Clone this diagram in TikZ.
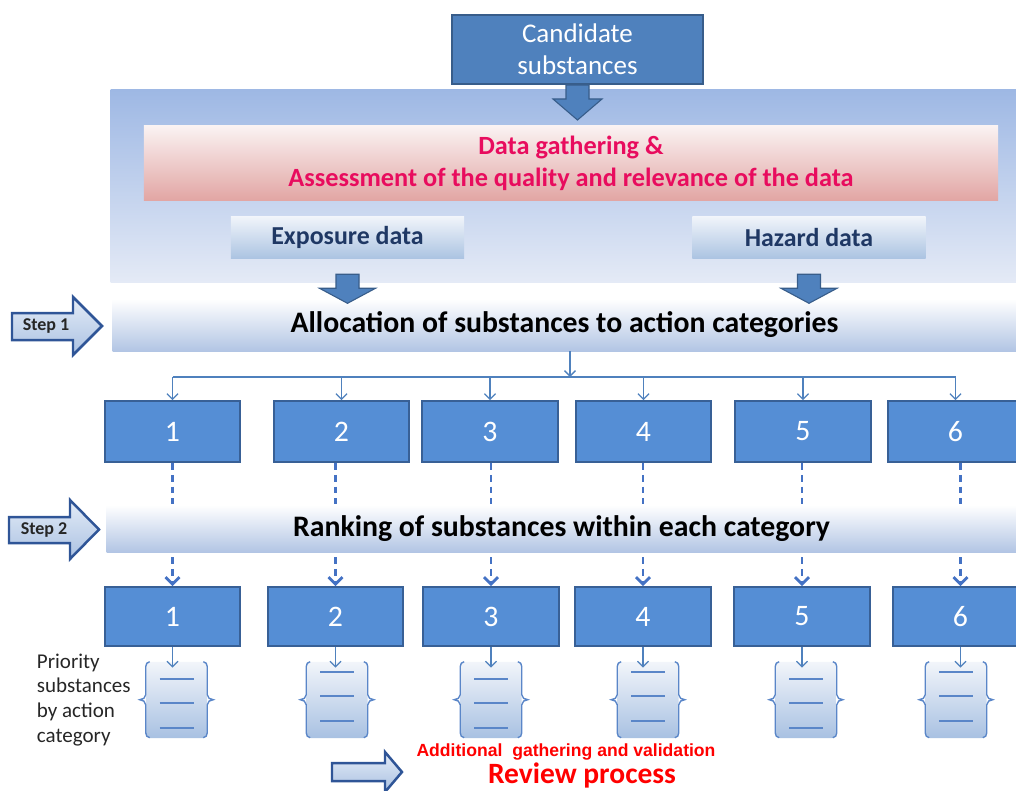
\documentclass[tikz,border=0pt]{standalone}
\usepackage{fontspec}
\setmainfont{Carlito}
\newfontfamily\arialfont{Liberation Sans}
\usetikzlibrary{arrows.meta,positioning}

\definecolor{boxblue}{RGB}{85,142,213}
\definecolor{boxedge}{RGB}{56,96,150}
\definecolor{candblue}{RGB}{79,129,189}
\definecolor{candedge}{RGB}{56,93,138}
\definecolor{linkblue}{RGB}{79,129,189}
\definecolor{dashblue}{RGB}{68,114,196}
\definecolor{paneltop}{RGB}{158,184,228}
\definecolor{panelbot}{RGB}{228,234,246}
\definecolor{pinktop}{RGB}{250,242,242}
\definecolor{pinkbot}{RGB}{226,166,164}
\definecolor{datatop}{RGB}{240,244,250}
\definecolor{databot}{RGB}{172,196,226}
\definecolor{bandbot}{RGB}{178,197,228}
\definecolor{stepedge}{RGB}{47,85,151}
\definecolor{steptop}{RGB}{228,236,247}
\definecolor{stepbot}{RGB}{170,193,226}
\definecolor{gathertext}{RGB}{232,12,94}
\definecolor{navytext}{RGB}{31,56,100}
\definecolor{reviewred}{RGB}{255,0,0}
\definecolor{listline}{RGB}{90,134,200}
\definecolor{listtop}{RGB}{242,245,250}
\definecolor{listbot}{RGB}{168,193,226}

\tikzset{
  catbox/.style={draw=boxedge, line width=1.4pt, fill=boxblue, text=white,
    minimum width=1.35in, font=\fontsize{21.5}{26}\selectfont},
  candbox/.style={draw=candedge, line width=1.4pt, fill=candblue, text=white,
    minimum width=2.51in, minimum height=0.69in, align=center,
    font=\fontsize{19.5}{23}\selectfont},
  panel/.style={top color=paneltop, bottom color=panelbot, minimum width=9.05in,
    minimum height=1.92in, inner sep=0pt},
  gatherband/.style={top color=pinktop, bottom color=pinkbot, minimum width=8.54in,
    minimum height=0.74in, align=center, text=gathertext,
    font=\bfseries\fontsize{19}{23}\selectfont},
  databox/.style={top color=datatop, bottom color=databot, minimum width=2.33in,
    minimum height=0.41in, text=navytext, font=\bfseries\fontsize{18.7}{22}\selectfont},
  band/.style={top color=white, bottom color=bandbot, inner sep=0pt,
    font=\bfseries\fontsize{21.5}{25}\selectfont},
  fatarrow/.style={draw=candedge, line width=0.8pt, fill=candblue, line join=miter},
  steparrow/.style={draw=stepedge, line width=1.8pt, top color=steptop,
    bottom color=stepbot, line join=miter},
  steptext/.style={font=\bfseries\fontsize{13}{15}\selectfont, text=black!85},
  link/.style={draw=linkblue, line width=0.9pt, -{Straight Barb[length=4pt,width=8pt]}},
  linkline/.style={draw=linkblue, line width=0.9pt},
  dashlink/.style={draw=dashblue, line width=2pt, dash pattern=on 5pt off 3.5pt,
    -{Straight Barb[length=5pt,width=10pt]}},
  listbox/.style={top color=listtop, bottom color=listbot, minimum width=0.61in,
    minimum height=0.76in, rounded corners=3pt, inner sep=0pt},
  bracepen/.style={draw=listline, line width=1pt},
  listpen/.style={draw=listline, line width=1.4pt}
}

\begin{document}
\begin{tikzpicture}[x=0.01in, y=-0.01in]
\useasboundingbox (0,0) rectangle (1016,791);
\clip (0,0) rectangle (1016,791);

% data gathering
\node[panel] (panel) at (563.5,186) {};
\node[candbox] (cand) at (577.5,49.5) {Candidate\\substances};
\draw[fatarrow] ([shift={(-11.5,0)}]cand.south) -- ++(0,14) -- ++(-13,0) -- ++(24.5,21)
  -- ++(24.5,-21) -- ++(-13,0) -- ++(0,-14) -- cycle;
\node[gatherband] (gather) at (571,163)
  {Data gathering \&\\Assessment of the quality and relevance of the data};
\node[databox] (expo) at (347.5,237.5) {Exposure data};
\node[databox] (hazard) at (809,237.5) {Hazard data};

% step 1
\node[band, minimum width=9.03in, minimum height=0.52in] (alloc) at (564.5,325)
  {Allocation of substances to action categories};
\foreach \src in {expo,hazard}
  \draw[fatarrow] ([shift={(-11.5,16)}]\src.south) -- ++(0,14) -- ++(-16.5,0) -- ++(28,15)
    -- ++(28,-15) -- ++(-16.5,0) -- ++(0,-14) -- cycle;
\draw[steparrow] (12,313) -- (73,313) -- (73,297) -- (102,326) -- (73,355) -- (73,340)
  -- (12,340) -- cycle;
\node[steptext] (step1) at (46,326.5) {Step 1};

\foreach \i/\x in {1/172.5,2/341.5,3/490,4/643.5,5/803,6/955.5}
  \node[catbox, minimum height=0.61in] (a\i) at (\x,431.5) {\i};
\coordinate (split) at (570,377);
\draw[link] (split |- alloc.south) -- (split);
\draw[linkline] (a1.north |- split) -- (a6.north |- split);
\foreach \i in {1,...,6}
  \draw[link] (a\i.north |- split) -- (a\i.north);

% step 2
\foreach \i/\x in {1/172.5,2/335.5,3/491,4/643,5/802,6/960.5}
  \node[catbox, minimum height=0.59in] (b\i) at (\x,616.5) {\i};
\foreach \i in {1,...,6}
  \draw[dashlink] (b\i.north |- a\i.south) -- (b\i.north);
\node[band, minimum width=9.09in, minimum height=0.47in] (rank) at (561.5,528.5)
  {Ranking of substances within each category};
\draw[steparrow] (9,517) -- (70,517) -- (70,500) -- (99,529.5) -- (70,559) -- (70,543)
  -- (9,543) -- cycle;
\node[steptext] (step2) at (44,530) {Step 2};

% priority lists
\foreach \i/\x/\off in {1/176.5/7,2/337/0,3/491/7,4/648/0,5/806/7,6/956/0} {
  \node[listbox] (list\i) at (\x,700) {};
  \draw[bracepen] ([shift={(4,0)}]list\i.north west) to[out=180,in=90] ++(-4,5) -- ++(0,28)
    to[out=-90,in=0] ++(-6,5) to[out=0,in=90] ++(6,5) -- ++(0,28) to[out=-90,in=180] ++(4,5);
  \draw[bracepen] ([shift={(-4,0)}]list\i.north east) to[out=0,in=90] ++(4,5) -- ++(0,28)
    to[out=-90,in=180] ++(6,5) to[out=180,in=90] ++(-6,5) -- ++(0,28) to[out=-90,in=0] ++(-4,5);
  \foreach \dy in {10,34,59}
    \draw[listpen] ([shift={(-17,\dy+\off)}]list\i.north) -- ++(34,0);
  \draw[link, shorten >=-4.3pt] (b\i.south) -- (b\i.south |- list\i.north);
}
\node[align=left, anchor=west, text=black!85, font=\fontsize{15.2}{18}\selectfont]
  (prio) at (32,700) {Priority\\substances\\by action\\category};

% review
\draw[steparrow] (332,763) -- (385,763) -- (385,752) -- (402,772) -- (385,792) -- (385,781)
  -- (332,781) -- cycle;
\node[text=reviewred, font=\arialfont\bfseries\fontsize{12.7}{15}\selectfont] (extra)
  at (566,752) {Additional\ \ gathering and validation};
\node[text=reviewred, font=\bfseries\fontsize{21.3}{25}\selectfont] (review)
  at (582,775) {Review process};
\end{tikzpicture}
\end{document}
